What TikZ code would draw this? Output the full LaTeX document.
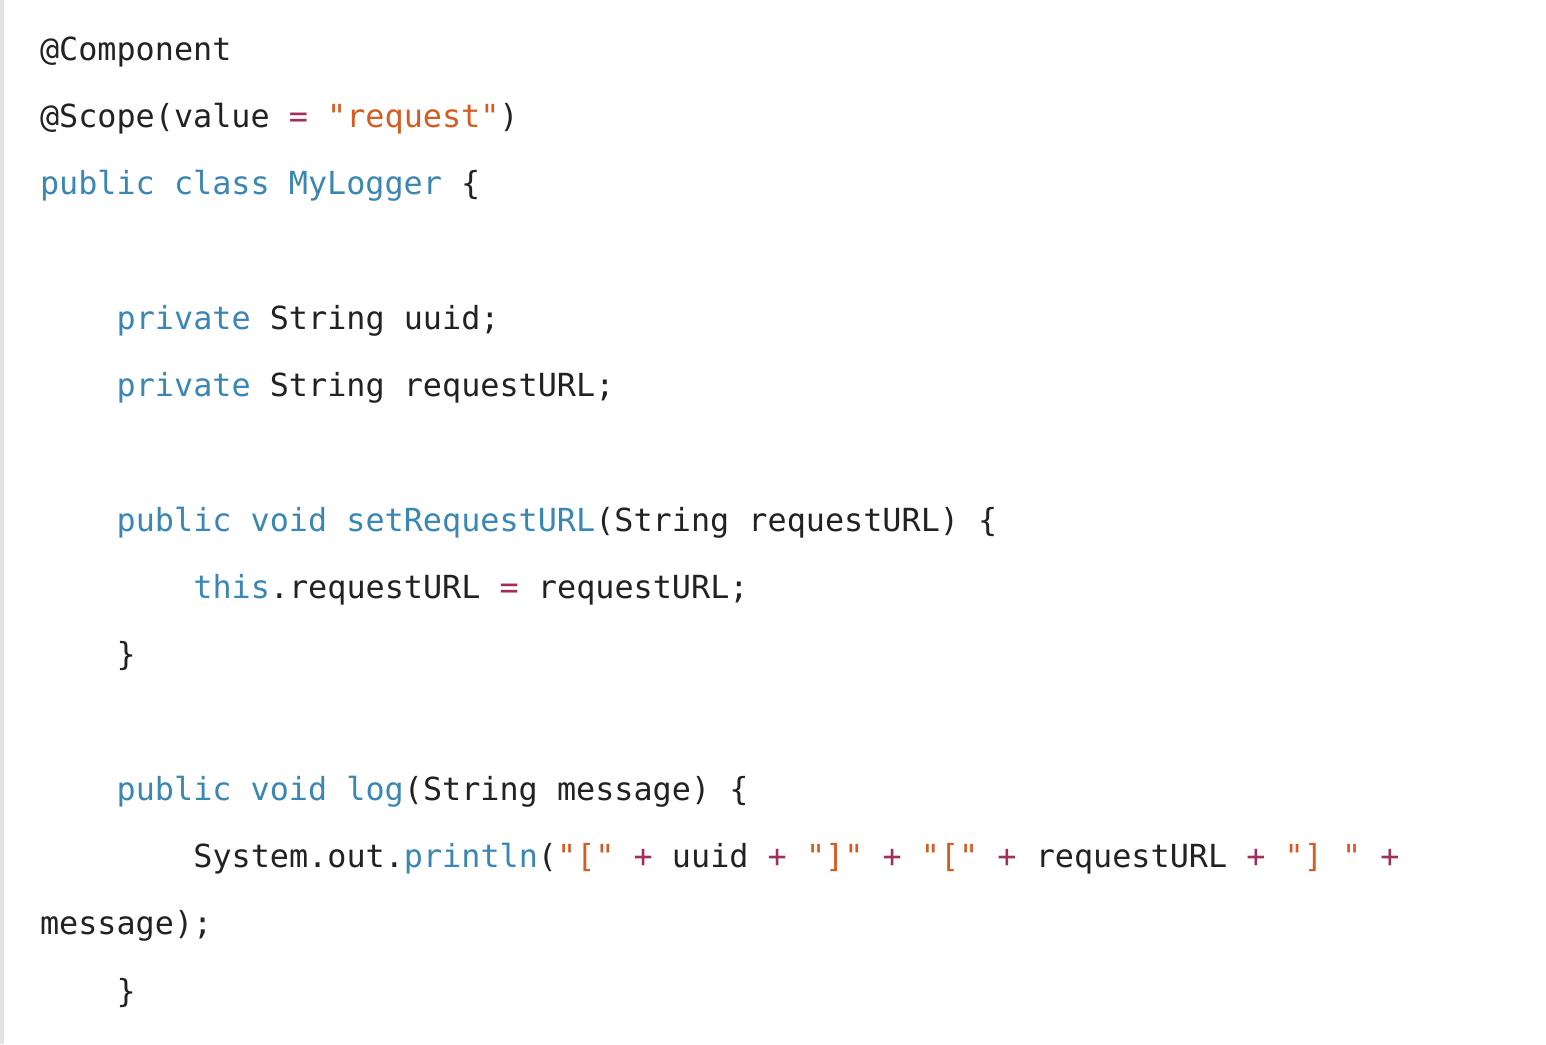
\documentclass[tikz,border=0pt]{standalone}
\usepackage{fontspec}
\newfontfamily\codefont{DejaVu Sans Mono}
\definecolor{ckwcol}{HTML}{3B87B4}
\definecolor{cstrcol}{HTML}{D55D24}
\definecolor{copcol}{HTML}{A0305A}
\definecolor{ctxtcol}{HTML}{222222}
\definecolor{cbar}{HTML}{E3E3E3}
\newcommand{\ckw}[1]{\textcolor{ckwcol}{#1}}
\newcommand{\cstr}[1]{\textcolor{cstrcol}{#1}}
\newcommand{\cop}[1]{\textcolor{copcol}{#1}}
\begin{document}
\begin{tikzpicture}[x=1pt,y=1pt,
  codeline/.style={anchor=base west,inner sep=0pt,outer sep=0pt,text=ctxtcol,
    font=\codefont\fontsize{15.9pt}{18pt}\selectfont}]
\useasboundingbox (0,0) rectangle (773,-522);
\fill[white] (0,0) rectangle (773,-522);
\fill[cbar] (0,0) rectangle (2,-522);
\def\cw{9.585}
\def\ls{33.65}
\node[codeline] (l0) at (20,-30) {@Component};
\node[codeline] (l1) at (20,-30-\ls) {@Scope(value \cop{=} \cstr{"request"})};
\node[codeline] (l2) at (20,-30-2*\ls) {\ckw{public class MyLogger} \{};
\node[codeline] (l4) at (20+4*\cw,-30-4*\ls) {\ckw{private} String uuid;};
\node[codeline] (l5) at (20+4*\cw,-30-5*\ls) {\ckw{private} String requestURL;};
\node[codeline] (l7) at (20+4*\cw,-30-7*\ls) {\ckw{public void setRequestURL}(String requestURL) \{};
\node[codeline] (l8) at (20+8*\cw,-30-8*\ls) {\ckw{this}.requestURL \cop{=} requestURL;};
\node[codeline] (l9) at (20+4*\cw,-30-9*\ls) {\}};
\node[codeline] (l11) at (20+4*\cw,-30-11*\ls) {\ckw{public void log}(String message) \{};
\node[codeline] (l12) at (20+8*\cw,-30-12*\ls) {System.out.\ckw{println}(\cstr{"["} \cop{+} uuid \cop{+} \cstr{"]"} \cop{+} \cstr{"["} \cop{+} requestURL \cop{+} \cstr{"]~"} \cop{+}};
\node[codeline] (l13) at (20,-30-13*\ls) {message);};
\node[codeline] (l14) at (20+4*\cw,-30-14*\ls) {\}};
\end{tikzpicture}
\end{document}
